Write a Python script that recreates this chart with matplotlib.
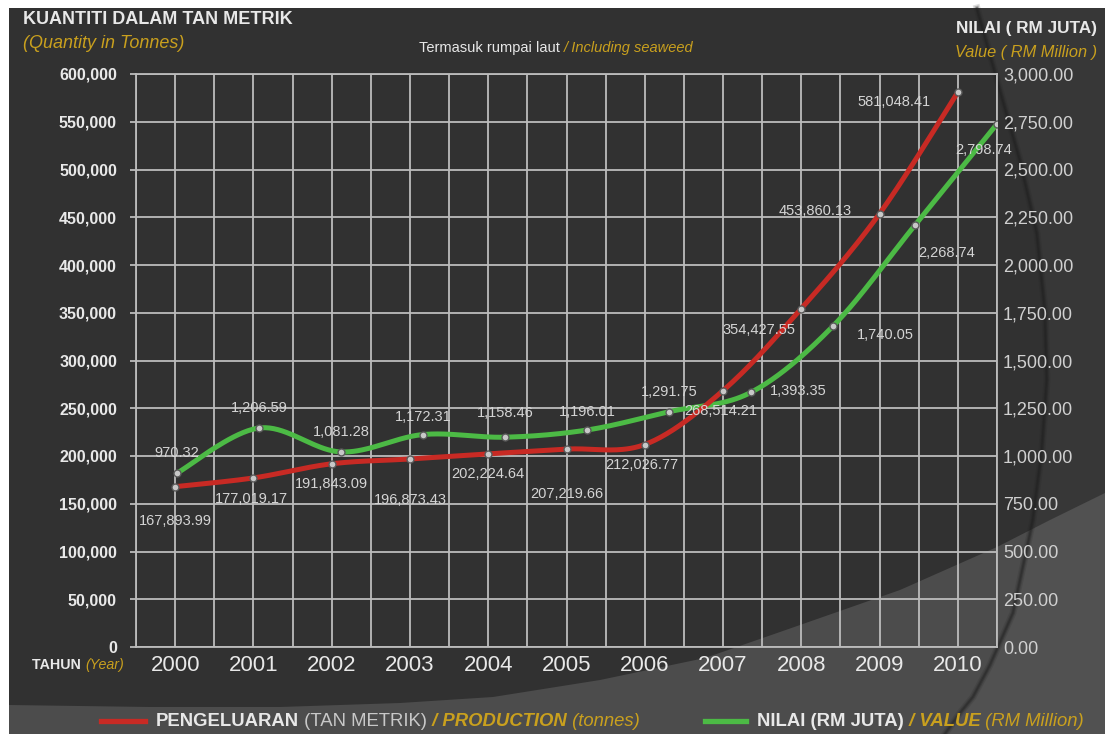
import matplotlib
matplotlib.use('Agg')
import matplotlib.pyplot as plt
import numpy as np
from matplotlib.patches import Rectangle, Polygon
from matplotlib.transforms import IdentityTransform

# ---------------- data ----------------
years = [2000, 2001, 2002, 2003, 2004, 2005, 2006, 2007, 2008, 2009, 2010]
year_labels = [str(y) for y in years]
production = [167893.99, 177019.17, 191843.09, 196873.43, 202224.64, 207219.66,
              212026.77, 268514.21, 354427.55, 453860.13, 581048.41]
value = [970.32, 1206.59, 1081.28, 1172.31, 1158.46, 1196.01,
         1291.75, 1393.35, 1740.05, 2268.74, 2798.74]
left_ticks = [0, 50000, 100000, 150000, 200000, 250000, 300000,
              350000, 400000, 450000, 500000, 550000, 600000]
right_ticks = [0, 250, 500, 750, 1000, 1250, 1500, 1750, 2000, 2250, 2500, 2750, 3000]

# ---------------- style ----------------
W, H = 1105, 734
plt.rcParams['font.family'] = ['Liberation Sans', 'DejaVu Sans']
BG = '#313131'
LIGHT = '#4c4c4c'
GRID = '#bcbcbc'
WHITE = '#e8e8e8'
GOLD = '#c9a01e'
LBL = '#d4d4d4'
RED = '#c82a24'
GREEN = '#4cba45'


def fx(x):
    return x / W


def fy(y):
    return 1 - y / H


fig = plt.figure(figsize=(W / 100, H / 100), dpi=100, facecolor='white')

# background panel
fig.patches.append(Rectangle((fx(9), 0), 1 - fx(9), fy(8), transform=fig.transFigure,
                             facecolor=BG, edgecolor='none', zorder=-20))
# lighter swoosh / legend band
sw = [(9, 705), (150, 707), (280, 707), (400, 703), (493, 697), (600, 680), (705, 658),
      (780, 632), (900, 590), (997, 547), (1050, 520), (1105, 493), (1105, 734), (9, 734)]
fig.patches.append(Polygon([(fx(a), fy(b)) for a, b in sw], closed=True, transform=fig.transFigure,
                           facecolor=LIGHT, edgecolor='none', zorder=-18))
# subtle right arc
arc = [(977, 8), (1000, 90), (1020, 160), (1037, 233), (1045, 310), (1047, 380), (1042, 450),
       (1033, 520), (1013, 613), (990, 665), (973, 697), (960, 713), (945, 734)]
fig.patches.append(Polygon([(fx(a), fy(b)) for a, b in arc + [(1105, 734), (1105, 8)]],
                           closed=True, transform=fig.transFigure, facecolor='white',
                           alpha=0.03, edgecolor='none', zorder=-17))
for lw_, al in ((5, 0.15), (3, 0.25), (1.5, 0.35)):
    fig.add_artist(plt.Line2D([fx(a) for a, b in arc], [fy(b) for a, b in arc], color='#1e1e1e',
                              lw=lw_, alpha=al, transform=fig.transFigure, zorder=-16))

rect = [fx(136), fy(647), fx(997) - fx(136), fy(74) - fy(647)]

# main axes (production, left)
ax = fig.add_axes(rect)
ax.set_facecolor('none')
ax.set_xlim(1999.5, 2010.5)
ax.set_ylim(0, 600000)
ax.set_xticks(years)
ax.set_xticklabels(year_labels)
ax.set_xticks(np.arange(1999.5, 2010.51, 0.5), minor=True)
ax.set_yticks(left_ticks)
ax.set_yticklabels([f'{v:,}' for v in left_ticks])
ax.grid(True, which='both', axis='x', color=GRID, lw=1.3)
ax.grid(True, which='major', axis='y', color=GRID, lw=1.3)
ax.set_axisbelow(True)
ax.tick_params(axis='x', which='both', length=0, pad=5.5, labelsize=16, labelcolor=WHITE)
ax.tick_params(axis='y', length=4.3, width=1.3, color=GRID, pad=9.4, labelsize=11.5,
               labelcolor=WHITE)
for lab in ax.get_yticklabels():
    lab.set_fontweight('bold')
for s in ax.spines.values():
    s.set_color(GRID)
    s.set_linewidth(1.3)

# right axis labels
rax = ax.twinx()
rax.set_ylim(0, 3000)
rax.set_yticks(right_ticks)
rax.set_yticklabels([f'{v:,.2f}' for v in right_ticks])
rax.tick_params(axis='y', length=0, pad=4.3, labelsize=13, labelcolor='#d0d0d0')
for s in rax.spines.values():
    s.set_visible(False)

# value axes (stretched x as in the original)
gax = fig.add_axes(rect)
gax.set_facecolor('none')
gax.axis('off')
gax.set_xlim(1999.5, 2010.0)
gax.set_ylim(60, 3060)
gax.set_zorder(5)


def smooth(x, y, n=40):
    x = np.asarray(x, float)
    y = np.asarray(y, float)
    X, Y = [], []
    t = np.linspace(0, 1, n)
    h00 = 2 * t ** 3 - 3 * t ** 2 + 1
    h10 = t ** 3 - 2 * t ** 2 + t
    h01 = -2 * t ** 3 + 3 * t ** 2
    h11 = t ** 3 - t ** 2
    for i in range(len(x) - 1):
        i0 = max(i - 1, 0)
        i3 = min(i + 2, len(x) - 1)
        for arr, out in ((x, X), (y, Y)):
            m1 = (arr[i + 1] - arr[i0]) / 2
            m2 = (arr[i3] - arr[i]) / 2
            out.append(h00 * arr[i] + h10 * m1 + h01 * arr[i + 1] + h11 * m2)
    return np.concatenate(X), np.concatenate(Y)


sx, sy = smooth(years, production)
gax.plot(sx, sy, color=RED, lw=3.6, transform=ax.transData, zorder=4, solid_capstyle='round')
gax.plot(years, production, ls='none', marker='o', ms=5, mfc='#c8c8c8', mec='#5a5a5a', mew=1,
         transform=ax.transData, zorder=6)

gx, gy = smooth(years, value)
gax.plot(gx, gy, color=GREEN, lw=3.6, zorder=3, solid_capstyle='round')
gax.plot(years, value, ls='none', marker='o', ms=5, mfc='#c8c8c8', mec='#5a5a5a', mew=1, zorder=6)

red_off = [(0, -34), (-2, -21), (0, -20), (0, -41), (0, -20), (0, -45),
           (-3, -20), (-2, -20), (-42, -21), (-64, 3), (-64, -10)]
green_off = [(0, 20), (0, 20), (0, 20), (0, 18), (0, 24), (0, 18),
             (0, 20), (47, 1), (52, -9), (32, -28), (-13, -26)]
for yr, v, off in zip(years, production, red_off):
    gax.annotate(f'{v:,.2f}', xy=(yr, v), xycoords=ax.transData, xytext=off,
                 textcoords='offset pixels', ha='center', va='center', fontsize=10.5,
                 color=LBL, zorder=8)
for yr, v, off in zip(years, value, green_off):
    gax.annotate(f'{v:,.2f}', xy=(yr, v), xytext=off, textcoords='offset pixels',
                 ha='center', va='center', fontsize=10.5, color=LBL, zorder=8)

# ---------------- texts ----------------
renderer = fig.canvas.get_renderer()


def seg_text(x, y, parts, ha='left'):
    arts = []
    widths = []
    for s, kw in parts:
        t = fig.text(0, H - y, s, transform=IdentityTransform(), va='center', ha='left', **kw)
        arts.append(t)
        widths.append(t.get_window_extent(renderer).width)
    total = sum(widths)
    if ha == 'center':
        x0 = x - total / 2
    elif ha == 'right':
        x0 = x - total
    else:
        x0 = x
    for t, w in zip(arts, widths):
        t.set_x(x0)
        x0 += w
    return arts


fig.text(fx(23), fy(19), 'KUANTITI DALAM TAN METRIK', fontsize=13, fontweight='bold',
         color=WHITE, ha='left', va='center')
fig.text(fx(23), fy(43), '(Quantity in Tonnes)', fontsize=13, fontstyle='italic',
         color=GOLD, ha='left', va='center')
fig.text(fx(1097), fy(29), 'NILAI ( RM JUTA)', fontsize=12.4, fontweight='bold',
         color=WHITE, ha='right', va='center')
fig.text(fx(1097), fy(52), 'Value ( RM Million )', fontsize=11.8, fontstyle='italic',
         color=GOLD, ha='right', va='center')

seg_text(556, 48, [('Termasuk rumpai laut ', dict(fontsize=10.5, color=WHITE)),
                   ('/ Including seaweed', dict(fontsize=10.5, color=GOLD, fontstyle='italic'))],
         ha='center')

seg_text(32, 665, [('TAHUN ', dict(fontsize=10.3, color=WHITE, fontweight='bold')),
                   ('(Year)', dict(fontsize=10.3, color=GOLD, fontstyle='italic'))])

# legend
fig.add_artist(plt.Line2D([fx(101), fx(145)], [fy(721), fy(721)], color=RED, lw=3.8,
                          transform=fig.transFigure))
fig.add_artist(plt.Line2D([fx(705), fx(746)], [fy(721), fy(721)], color=GREEN, lw=3.8,
                          transform=fig.transFigure))
LS = 13.3
seg_text(156, 721, [('PENGELUARAN', dict(fontsize=LS, color=WHITE, fontweight='bold')),
                    (' (TAN METRIK)', dict(fontsize=LS, color='#c8c8c8')),
                    (' / PRODUCTION', dict(fontsize=LS, color=GOLD, fontweight='bold', fontstyle='italic')),
                    (' (tonnes)', dict(fontsize=LS, color=GOLD, fontstyle='italic'))])
seg_text(757, 721, [('NILAI (RM JUTA)', dict(fontsize=LS, color=WHITE, fontweight='bold')),
                    (' / VALUE', dict(fontsize=LS, color=GOLD, fontweight='bold', fontstyle='italic')),
                    (' (RM Million)', dict(fontsize=LS, color=GOLD, fontstyle='italic'))])

fig.savefig('out.png', dpi=100, facecolor='white')
